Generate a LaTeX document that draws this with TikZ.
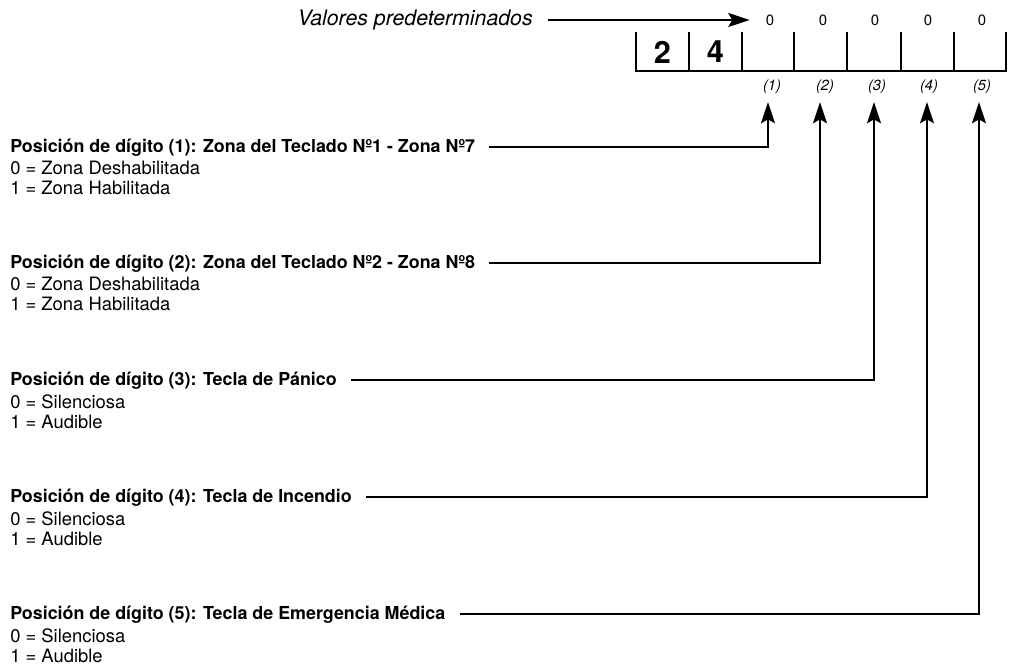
\documentclass[tikz,border=0pt]{standalone}
\usepackage{fontspec}
\setmainfont{TeX Gyre Heros}
\usetikzlibrary{arrows.meta}
\begin{document}
\begin{tikzpicture}[x=0.75pt,y=-0.75pt,
  title/.style={anchor=west,inner sep=0pt,text height=9pt,text depth=0.8pt,font=\bfseries\fontsize{13.4}{15}\selectfont},
  sub/.style={anchor=base west,inner sep=0pt,font=\fontsize{13.8}{15}\selectfont},
  val/.style={inner sep=0pt,font=\fontsize{11.2}{13}\selectfont},
  poslabel/.style={inner sep=0pt,font=\itshape\fontsize{11}{13}\selectfont},
  big/.style={inner sep=0pt,font=\bfseries\fontsize{23}{27}\selectfont},
  conn/.style={line width=1.5pt,-{Stealth[length=16pt,width=10.5pt,inset=3pt]}},
  boxline/.style={line width=2.2pt}]
\useasboundingbox (0,0) rectangle (1011,670);
% default values
\node[anchor=east,inner sep=0pt,font=\itshape\fontsize{16}{18}\selectfont] (vp) at (533,20) {Valores predeterminados};
\foreach \i/\x in {1/770,2/823,3/875,4/928,5/982}{
  \node[val] (z\i) at (\x,20) {0};
}
\draw[conn] ([xshift=11pt]vp.east) -- ([xshift=-12pt]z1.west);
% box
\draw[boxline] (636,32) -- (636,71) -- (1006,71) -- (1006,32);
\foreach \x in {689,742,794,847,901,954}{
  \draw[boxline] (\x,32) -- (\x,71);
}
\node[big] (d2) at (662.5,52) {2};
\node[big] (d4) at (715.5,52) {4};
% position labels
\foreach \i/\x in {1/772,2/825,3/877,4/929,5/982}{
  \node[poslabel] (p\i) at (\x,87) {(\i)};
}
% coordinates for arrow tips
\foreach \i/\x in {1/768,2/820,3/874,4/927,5/979}{
  \coordinate (t\i) at (\x,102);
}
% descriptions
\node[title] (h1) at (10,147) {Posición de dígito (1): Zona del Teclado Nº1 - Zona Nº7};
\node[sub] (a1) at (10,175) {0 = Zona Deshabilitada};
\node[sub] (b1) at (10,195) {1 = Zona Habilitada};
\node[title] (h2) at (10,263) {Posición de dígito (2): Zona del Teclado Nº2 - Zona Nº8};
\node[sub] (a2) at (10,291) {0 = Zona Deshabilitada};
\node[sub] (b2) at (10,311) {1 = Zona Habilitada};
\node[title] (h3) at (10,380) {Posición de dígito (3): Tecla de Pánico};
\node[sub] (a3) at (10,408) {0 = Silenciosa};
\node[sub] (b3) at (10,428) {1 = Audible};
\node[title] (h4) at (10,497) {Posición de dígito (4): Tecla de Incendio};
\node[sub] (a4) at (10,525) {0 = Silenciosa};
\node[sub] (b4) at (10,545) {1 = Audible};
\node[title] (h5) at (10,614) {Posición de dígito (5): Tecla de Emergencia Médica};
\node[sub] (a5) at (10,642) {0 = Silenciosa};
\node[sub] (b5) at (10,662) {1 = Audible};
% connectors
\foreach \i in {1,...,5}{
  \draw[conn] ([xshift=10.5pt]h\i.east) -| (t\i);
}
\end{tikzpicture}
\end{document}
